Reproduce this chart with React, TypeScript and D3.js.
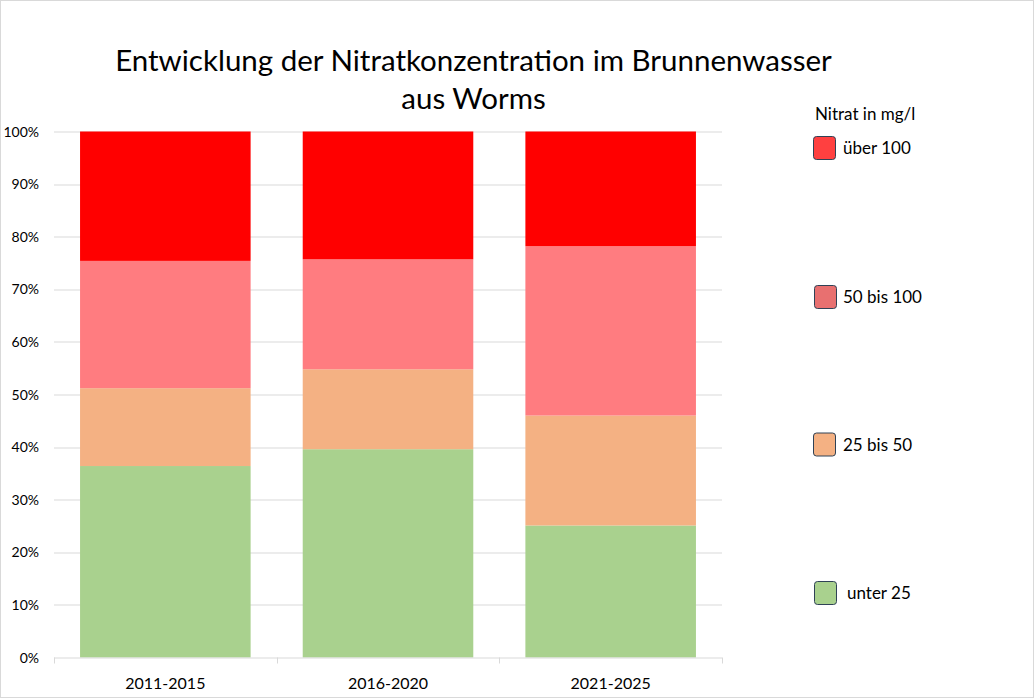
import React, { useEffect, useRef } from 'react';
import * as d3 from 'd3';

const periods = ['2011-2015', '2016-2020', '2021-2025'];
const classes = ['unter 25', '25 bis 50', '50 bis 100', 'über 100'];
// share of wells per class, percent
const unter25 = [36.4, 39.6, 25.1];
const bis50 = [14.8, 15.2, 20.9];
const bis100 = [24.2, 20.9, 32.2];
const ueber100 = [24.6, 24.3, 21.8];
const barColors = ['#A9D18E', '#F4B183', '#FF7C80', '#FF0000'];
const legendColors = ['#A9D18E', '#F4B183', '#E87070', '#FF4040'];
const yTicks = [0, 10, 20, 30, 40, 50, 60, 70, 80, 90, 100];

const FONT = 'Lato, Carlito, "Open Sans", sans-serif';

const App: React.FC = () => {
  const svgRef = useRef<SVGSVGElement | null>(null);

  useEffect(() => {
    if (!svgRef.current) return;
    const width = 1035;
    const height = 699;
    const margin = { top: 131.5, right: 313, bottom: 41.5, left: 54 };
    const innerW = width - margin.left - margin.right;
    const innerH = height - margin.top - margin.bottom;

    const svg = d3.select(svgRef.current).attr('width', width).attr('height', height);
    svg.selectAll('*').remove();

    svg
      .append('rect')
      .attr('x', 0.5)
      .attr('y', 0.5)
      .attr('width', width - 2)
      .attr('height', height - 2)
      .attr('fill', '#fff')
      .attr('stroke', '#d9d9d9');

    const title = svg
      .append('text')
      .attr('x', 473.5)
      .attr('text-anchor', 'middle')
      .style('font-family', FONT)
      .style('font-size', '29.5px')
      .attr('fill', '#000');
    title.append('tspan').attr('x', 473.5).attr('y', 71).text('Entwicklung der Nitratkonzentration im Brunnenwasser');
    title.append('tspan').attr('x', 473.5).attr('y', 108.5).text('aus Worms');

    const g = svg.append('g').attr('transform', `translate(${margin.left},${margin.top})`);

    const x = d3.scaleBand().domain(periods).range([0, innerW]).paddingInner(0.234).paddingOuter(0.117);
    const y = d3.scaleLinear().domain([0, 100]).range([innerH, 0]);

    // gridlines
    g.selectAll('.grid')
      .data(yTicks.slice(1))
      .enter()
      .append('line')
      .attr('x1', 0)
      .attr('x2', innerW)
      .attr('y1', (d) => Math.round(y(d)) + 0.5)
      .attr('y2', (d) => Math.round(y(d)) + 0.5)
      .attr('stroke', '#d9d9d9');

    // y labels
    g.selectAll('.ylab')
      .data(yTicks)
      .enter()
      .append('text')
      .attr('x', -15)
      .attr('y', (d) => y(d) + 5)
      .attr('text-anchor', 'end')
      .style('font-family', FONT)
      .style('font-size', '14px')
      .attr('fill', '#000')
      .text((d) => `${d}%`);

    const rows = periods.map((p, i) => ({
      period: p,
      'unter 25': unter25[i],
      '25 bis 50': bis50[i],
      '50 bis 100': bis100[i],
      'über 100': ueber100[i],
    }));
    const stacked = d3.stack<any>().keys(classes)(rows);

    stacked.forEach((layer, li) => {
      g.selectAll(`.bar${li}`)
        .data(layer)
        .enter()
        .append('rect')
        .attr('x', (d) => x(d.data.period) as number)
        .attr('width', x.bandwidth())
        .attr('y', (d) => y(d[1]))
        .attr('height', (d) => y(d[0]) - y(d[1]))
        .attr('fill', barColors[li]);
    });

    // x axis
    const step = x.step();
    g.append('line')
      .attr('x1', 0)
      .attr('x2', innerW)
      .attr('y1', innerH + 0.5)
      .attr('y2', innerH + 0.5)
      .attr('stroke', '#d9d9d9');
    g.selectAll('.tick')
      .data(d3.range(periods.length + 1))
      .enter()
      .append('line')
      .attr('x1', (d) => Math.round(d * step) + 0.5)
      .attr('x2', (d) => Math.round(d * step) + 0.5)
      .attr('y1', innerH)
      .attr('y2', innerH + 6)
      .attr('stroke', '#d9d9d9');
    g.selectAll('.xlab')
      .data(periods)
      .enter()
      .append('text')
      .attr('x', (d) => (x(d) as number) + x.bandwidth() / 2)
      .attr('y', innerH + 31)
      .attr('text-anchor', 'middle')
      .style('font-family', FONT)
      .style('font-size', '16px')
      .attr('fill', '#000')
      .text((d) => d);

    // legend
    svg
      .append('text')
      .attr('x', 815)
      .attr('y', 120)
      .style('font-family', FONT)
      .style('font-size', '17px')
      .attr('fill', '#000')
      .text('Nitrat in mg/l');

    const legendY = [593, 444.5, 297, 148];
    const legendX = [814, 813, 814, 813];
    const textX = [847, 843, 843, 843];
    classes.forEach((c, i) => {
      svg
        .append('rect')
        .attr('x', legendX[i] + 0.5)
        .attr('y', legendY[i] - 11.5)
        .attr('width', 22)
        .attr('height', 23)
        .attr('rx', 3)
        .attr('fill', legendColors[i])
        .attr('stroke', '#2f4256')
        .attr('stroke-width', 1);
      svg
        .append('text')
        .attr('x', textX[i])
        .attr('y', legendY[i] + 6)
        .style('font-family', FONT)
        .style('font-size', '17px')
        .attr('fill', '#000')
        .text(c);
    });
  }, []);

  return (
    <div style={{ position: 'absolute', left: 0, top: 0 }}>
      <svg ref={svgRef} style={{ display: 'block' }}></svg>
    </div>
  );
};

export default App;
